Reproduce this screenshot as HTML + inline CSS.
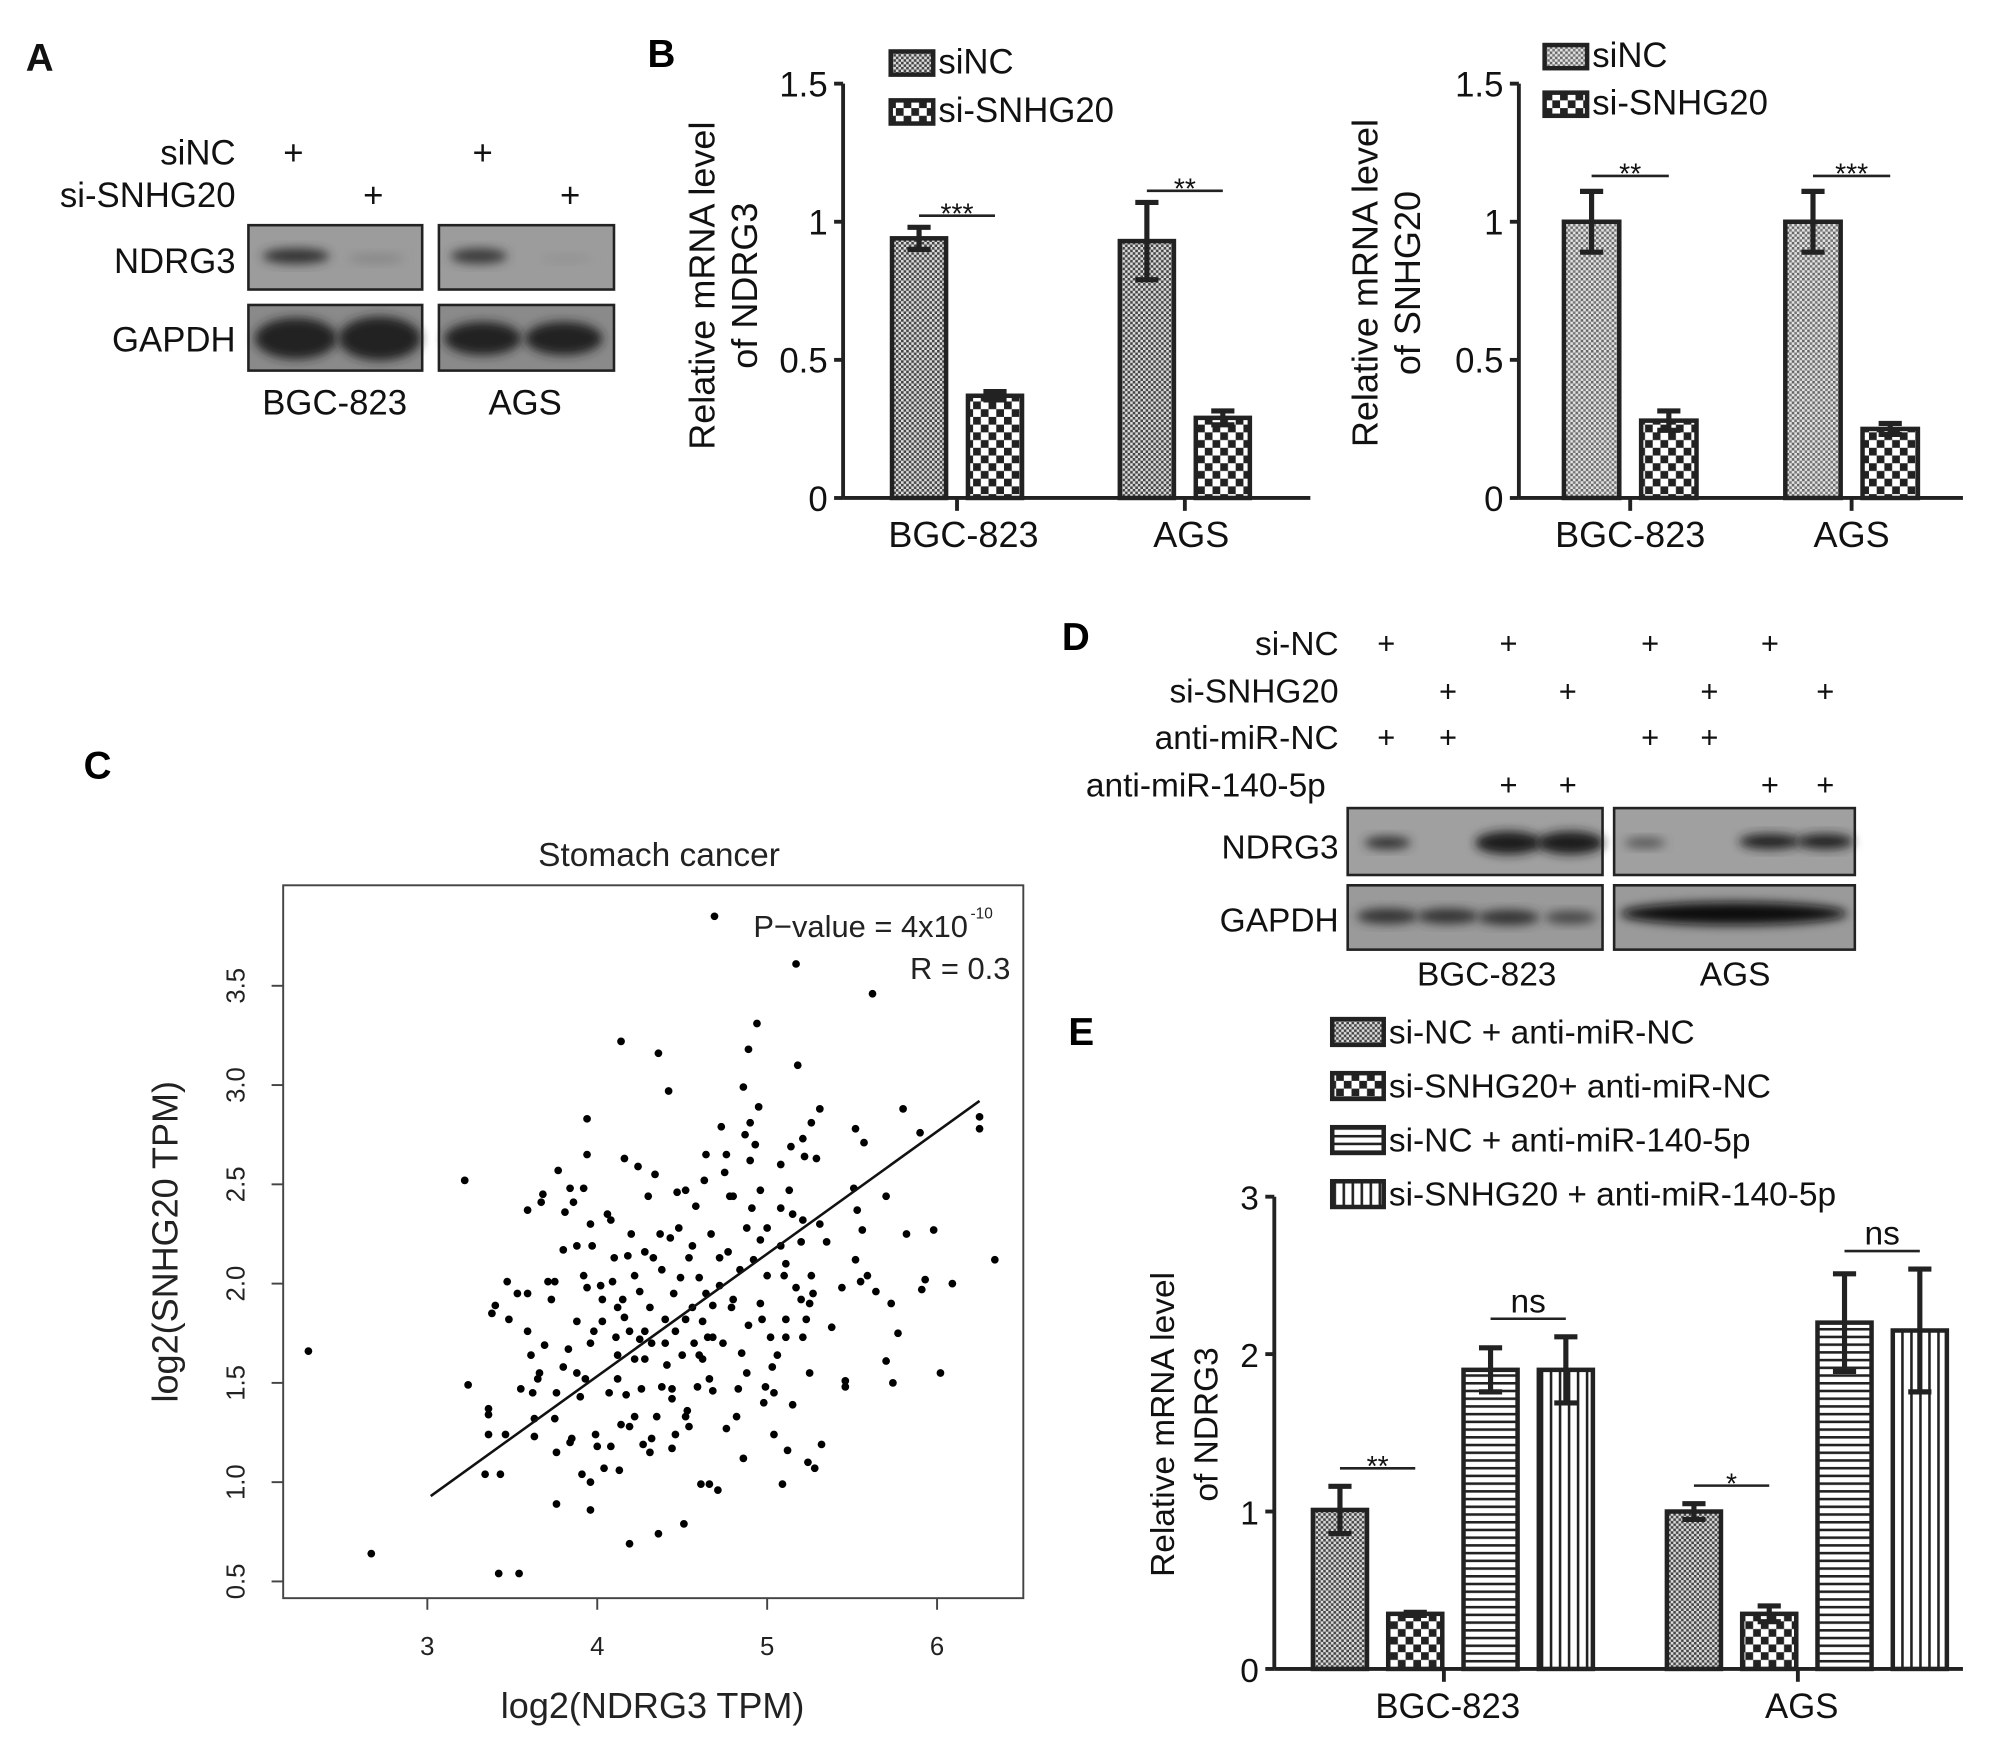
<!DOCTYPE html>
<html><head><meta charset="utf-8"><style>
html,body{margin:0;padding:0;background:#fff;}
svg{display:block;font-family:"Liberation Sans",Arial,sans-serif;}
</style></head><body>
<svg id="fig" width="2008" height="1750" viewBox="0 0 1560 1360" preserveAspectRatio="none" xmlns="http://www.w3.org/2000/svg">
<defs>
<pattern id="pFine" width="4" height="4" patternUnits="userSpaceOnUse"><rect width="4" height="4" fill="#ddd"/><rect width="2" height="2" fill="#444"/><rect x="2" y="2" width="2" height="2" fill="#444"/></pattern>
<pattern id="pFine2" width="4" height="4" patternUnits="userSpaceOnUse"><rect width="4" height="4" fill="#e4e4e4"/><rect width="2" height="2" fill="#666"/><rect x="2" y="2" width="2" height="2" fill="#777"/></pattern>
<pattern id="pCheck" width="12" height="12" patternUnits="userSpaceOnUse"><rect width="12" height="12" fill="#fff"/><rect width="6" height="6" fill="#222"/><rect x="6" y="6" width="6" height="6" fill="#222"/></pattern>
<pattern id="pHoriz" width="6" height="6" patternUnits="userSpaceOnUse"><rect width="6" height="6" fill="#fff"/><rect width="6" height="2" fill="#222"/></pattern>
<pattern id="pVert" width="7" height="7" patternUnits="userSpaceOnUse"><rect width="7" height="7" fill="#fff"/><rect width="2" height="7" fill="#222"/></pattern>
<filter id="blur" x="-20%" y="-50%" width="140%" height="200%"><feGaussianBlur stdDeviation="4"/></filter>
</defs>

<!-- Panel A -->
<g font-size="27" fill="#111">
<text x="20" y="55" font-weight="bold" font-size="30">A</text>
<text x="183" y="128" text-anchor="end">siNC</text>
<text x="183" y="161" text-anchor="end">si-SNHG20</text>
<text x="228" y="128" text-anchor="middle">+</text><text x="375" y="128" text-anchor="middle">+</text>
<text x="290" y="161" text-anchor="middle">+</text><text x="443" y="161" text-anchor="middle">+</text>
<text x="183" y="212" text-anchor="end">NDRG3</text>
<text x="183" y="273" text-anchor="end">GAPDH</text>
<g>
<rect x="193" y="175" width="135" height="50" fill="#9c9c9c" stroke="#222" stroke-width="2"/>
<rect x="341" y="175" width="136" height="50" fill="#9c9c9c" stroke="#222" stroke-width="2"/>
<ellipse cx="230" cy="199" rx="26" ry="6" fill="#333" filter="url(#blur)"/>
<ellipse cx="292" cy="201" rx="22" ry="4" fill="#888" filter="url(#blur)"/>
<ellipse cx="372" cy="199" rx="22" ry="6" fill="#3a3a3a" filter="url(#blur)"/>
<ellipse cx="440" cy="201" rx="20" ry="3" fill="#929292" filter="url(#blur)"/>
</g>
<g>
<rect x="193" y="237" width="135" height="51" fill="#8a8a8a" stroke="#222" stroke-width="2"/>
<rect x="341" y="237" width="136" height="51" fill="#8a8a8a" stroke="#222" stroke-width="2"/>
<ellipse cx="230" cy="263" rx="32" ry="16" fill="#222" filter="url(#blur)"/>
<ellipse cx="295" cy="263" rx="32" ry="17" fill="#222" filter="url(#blur)"/>
<ellipse cx="375" cy="263" rx="30" ry="13" fill="#222" filter="url(#blur)"/>
<ellipse cx="438" cy="263" rx="30" ry="13" fill="#222" filter="url(#blur)"/>
</g>
<text x="260" y="322" text-anchor="middle">BGC-823</text>
<text x="408" y="322" text-anchor="middle">AGS</text>
</g>

<text x="503" y="52" font-weight="bold" font-size="30">B</text>
<text x="20" y="605" font-weight="bold" font-size="30" transform="translate(45,0)">C</text>
<text x="825" y="505" font-weight="bold" font-size="30">D</text>
<text x="830" y="812" font-weight="bold" font-size="30">E</text>

<!-- Panel D -->
<g font-size="26" fill="#111">
<text x="1040" y="509" text-anchor="end">si-NC</text>
<text x="1040" y="546" text-anchor="end">si-SNHG20</text>
<text x="1040" y="582" text-anchor="end">anti-miR-NC</text>
<text x="1030" y="619" text-anchor="end">anti-miR-140-5p</text>
<g font-size="24" text-anchor="middle">
<text x="1077" y="508">+</text><text x="1172" y="508">+</text><text x="1282" y="508">+</text><text x="1375" y="508">+</text>
<text x="1125" y="545">+</text><text x="1218" y="545">+</text><text x="1328" y="545">+</text><text x="1418" y="545">+</text>
<text x="1077" y="581">+</text><text x="1125" y="581">+</text><text x="1282" y="581">+</text><text x="1328" y="581">+</text>
<text x="1172" y="618">+</text><text x="1218" y="618">+</text><text x="1375" y="618">+</text><text x="1418" y="618">+</text>
</g>
<text x="1040" y="667" text-anchor="end">NDRG3</text>
<text x="1040" y="724" text-anchor="end">GAPDH</text>
<g>
<rect x="1047" y="628" width="198" height="52" fill="#a0a0a0" stroke="#222" stroke-width="2"/>
<rect x="1254" y="628" width="187" height="52" fill="#a0a0a0" stroke="#222" stroke-width="2"/>
<ellipse cx="1078" cy="655" rx="18" ry="5" fill="#333" filter="url(#blur)"/>
<ellipse cx="1172" cy="655" rx="26" ry="9" fill="#1a1a1a" filter="url(#blur)"/>
<ellipse cx="1220" cy="655" rx="26" ry="9" fill="#1a1a1a" filter="url(#blur)"/>
<ellipse cx="1278" cy="655" rx="16" ry="4" fill="#555" filter="url(#blur)"/>
<ellipse cx="1375" cy="654" rx="24" ry="6" fill="#222" filter="url(#blur)"/>
<ellipse cx="1418" cy="654" rx="22" ry="6" fill="#222" filter="url(#blur)"/>
</g>
<g>
<rect x="1047" y="688" width="198" height="50" fill="#9a9a9a" stroke="#222" stroke-width="2"/>
<rect x="1254" y="688" width="187" height="50" fill="#9a9a9a" stroke="#222" stroke-width="2"/>
<ellipse cx="1078" cy="712" rx="24" ry="6" fill="#333" filter="url(#blur)"/>
<ellipse cx="1125" cy="712" rx="24" ry="6" fill="#333" filter="url(#blur)"/>
<ellipse cx="1172" cy="713" rx="24" ry="6" fill="#333" filter="url(#blur)"/>
<ellipse cx="1220" cy="713" rx="20" ry="5" fill="#444" filter="url(#blur)"/>
<ellipse cx="1347" cy="710" rx="88" ry="9" fill="#0e0e0e" filter="url(#blur)"/>
</g>
<text x="1155" y="766" text-anchor="middle">BGC-823</text>
<text x="1348" y="766" text-anchor="middle">AGS</text>
</g>

<g id="charts"></g>
</svg>
<script>
// ---------- data ----------
const bCategories = ["BGC-823", "AGS"];
const bSeries = ["siNC", "si-SNHG20"];
const b1Values = [0.94, 0.37, 0.93, 0.29];
const b1Errors = [0.04, 0.015, 0.14, 0.025];
const b2Values = [1.0, 0.28, 1.0, 0.25];
const b2Errors = [0.11, 0.035, 0.11, 0.02];
const bTicks = [0, 0.5, 1, 1.5];
const bTickLabels = ["0", "0.5", "1", "1.5"];
const b1Sig = ["***", "**"];
const b2Sig = ["**", "***"];

const eCategories = ["BGC-823", "AGS"];
const eSeries = ["si-NC + anti-miR-NC", "si-SNHG20+ anti-miR-NC", "si-NC + anti-miR-140-5p", "si-SNHG20 + anti-miR-140-5p"];
const eValues = [1.01, 0.35, 1.9, 1.9, 1.0, 0.35, 2.2, 2.15];
const eErrors = [0.15, 0.01, 0.14, 0.21, 0.05, 0.05, 0.31, 0.39];
const eTicks = [0, 1, 2, 3];
const eSig = ["**", "ns", "*", "ns"];

const cXTicks = [3, 4, 5, 6];
const cYTicks = [0.5, 1.0, 1.5, 2.0, 2.5, 3.0, 3.5];
const cFitX = [3.02, 6.25];
const cFitY = [0.93, 2.92];
const cX = [2.30,2.67,3.22,3.24,3.42,3.54,3.36,3.36,3.36,3.34,3.43,3.46,3.38,3.40,3.47,3.48,3.53,3.59,3.59,3.59,3.61,3.55,3.62,3.63,3.63,3.67,3.68,3.69,3.71,3.73,3.75,3.77,3.66,3.65,3.76,3.76,3.75,3.80,3.81,3.84,3.86,3.80,3.83,3.85,3.84,3.88,3.88,3.90,3.91,3.92,3.94,3.94,3.94,3.93,3.96,3.96,3.96,3.97,3.98,3.99,4.00,4.02,4.03,4.04,4.06,4.08,4.07,4.08,4.09,4.10,4.11,4.12,4.12,4.13,4.14,4.14,4.15,4.16,4.16,4.17,4.18,4.19,4.19,4.20,4.22,4.24,4.25,4.25,4.26,4.27,4.28,4.30,4.31,4.31,4.32,4.34,4.35,4.36,4.36,4.37,4.38,4.40,4.41,4.42,4.43,4.44,4.45,4.46,4.47,4.48,4.49,4.50,4.51,4.52,4.53,4.54,4.54,4.56,4.57,4.58,4.59,4.60,4.61,4.62,4.63,4.64,4.65,4.66,4.67,4.68,4.68,4.69,4.71,4.72,4.73,4.74,4.75,4.76,4.77,4.78,4.79,4.80,4.82,4.83,4.84,4.85,4.86,4.86,4.87,4.88,4.89,4.90,4.90,4.91,4.92,4.93,4.94,4.95,4.96,4.96,4.97,4.98,4.99,5.00,5.02,5.03,5.04,5.06,5.08,5.08,5.09,5.10,5.11,5.11,5.12,5.13,5.14,5.15,5.17,5.17,5.18,5.20,5.21,5.21,5.22,5.23,5.24,5.25,5.26,5.26,5.27,5.28,5.29,5.31,5.31,5.32,5.35,5.38,5.44,5.46,5.46,5.51,5.52,5.52,5.53,5.55,5.56,5.57,5.59,5.62,5.64,5.70,5.70,5.73,5.74,5.77,5.80,5.82,5.90,5.91,5.93,5.98,6.02,6.09,6.25,6.25,6.34,
4.44,4.52,4.38,4.28,4.62,4.68,4.19,4.03,4.22,4.33,4.56,4.64,4.80,4.89,5.11,5.21,5.25,5.04,4.88,4.52,4.40,4.28,4.12,3.92,4.72,4.96,5.08,5.20,5.00,4.44,3.96,3.88,3.76,4.60,4.66,4.22,4.32,4.46,5.15,4.76];
const cY = [1.66,0.64,2.52,1.49,0.54,0.54,1.37,1.34,1.24,1.04,1.04,1.24,1.85,1.89,2.01,1.82,1.95,1.95,2.37,1.76,1.64,1.47,1.45,1.32,1.23,2.41,2.45,1.69,2.01,1.92,2.01,2.57,1.55,1.52,1.15,0.89,1.32,2.17,2.36,2.48,2.41,1.58,1.67,1.22,1.20,2.19,1.81,1.43,1.04,2.48,2.83,2.65,1.98,1.52,1.00,0.86,2.30,2.19,1.76,1.24,1.18,1.99,1.92,1.07,2.35,2.32,1.45,1.18,2.01,2.13,1.73,1.64,1.52,1.06,1.29,3.22,1.92,2.63,1.83,1.44,2.14,0.69,1.28,2.25,1.62,2.59,1.96,1.72,1.47,1.19,2.16,2.44,1.88,1.15,1.70,2.55,1.33,3.16,0.74,2.25,2.07,1.82,1.59,2.97,2.23,1.17,1.95,1.76,2.46,2.28,2.03,1.64,0.79,2.47,1.36,1.28,2.13,1.88,1.70,2.39,1.48,2.03,0.99,1.81,2.52,2.65,1.73,0.99,2.25,1.89,1.46,3.85,0.96,1.99,2.79,1.70,2.56,2.65,2.16,2.44,1.88,2.44,1.33,1.47,2.07,1.65,1.12,2.99,2.75,2.28,3.18,2.81,2.62,2.38,2.12,2.70,3.31,2.89,2.47,1.90,1.82,1.40,1.48,2.28,1.73,1.58,1.24,1.64,2.60,2.38,0.99,2.04,1.82,2.10,1.16,2.47,2.69,2.35,3.61,1.98,3.10,2.21,2.32,2.73,2.64,1.82,1.10,1.90,2.81,2.04,1.95,1.07,2.63,2.30,2.88,1.19,2.21,1.78,1.98,1.51,1.48,2.48,2.78,2.12,2.37,2.01,2.27,2.71,2.04,3.46,1.96,2.44,1.61,1.90,1.50,1.75,2.88,2.25,2.76,1.97,2.02,2.27,1.55,2.00,2.84,2.78,2.12,
1.47,1.33,1.48,1.62,1.62,1.73,1.76,1.81,2.04,2.13,2.19,1.95,1.92,1.79,1.73,1.73,1.55,1.45,1.55,1.82,1.70,1.76,1.88,2.04,2.13,2.22,2.19,1.92,2.04,1.42,1.70,1.55,1.45,1.64,1.52,1.33,1.22,1.24,1.39,1.27];

// ---------- helpers ----------
const NS = "http://www.w3.org/2000/svg";
const root = document.getElementById("charts");
function mk(tag, attrs, parent, text) {
  const el = document.createElementNS(NS, tag);
  for (const k in attrs) el.setAttribute(k, attrs[k]);
  if (text !== undefined) el.textContent = text;
  (parent || root).appendChild(el);
  return el;
}

// ---------- bar chart ----------
function barChart(o) {
  const g = mk("g", {}, root);
  
  
  const yS = v => o.y0 - (v - o.ymin) / (o.ymax - o.ymin) * (o.y0 - o.ytop);
  const nS = o.series.length;
  const yAxis = mk("line", {x1:o.x0, x2:o.x0, y1:o.ytop, y2:o.y0, stroke:"#222", "stroke-width":3}, g);
  
  
  const xAxis = mk("line", {x1:o.x0, x2:o.x1, y1:o.y0, y2:o.y0, stroke:"#222", "stroke-width":3}, g);
  
  
  o.ticks.forEach((t, i) => {
    mk("line", {x1:o.x0-7, x2:o.x0, y1:yS(t), y2:yS(t), stroke:"#222", "stroke-width":3}, g);
    const tl = mk("text", {x:o.x0-12, y:yS(t)+10, "text-anchor":"end", "font-size":o.tickFont, fill:"#111"}, g, o.tickLabels[i]);
    
    
  });
  o.categories.forEach((c, gi) => {
    const gx = o.groupStart + gi * o.groupStep;
    const cx = gx + (nS * o.step - (o.step - o.barW)) / 2 + o.tickShift;
    mk("line", {x1:cx, x2:cx, y1:o.y0, y2:o.y0+10, stroke:"#222", "stroke-width":3}, g);
    const cl = mk("text", {x:cx + o.labelShift, y:o.y0+38, "text-anchor":"middle", "font-size":o.catFont, fill:"#111"}, g, c);
    
    
    for (let s = 0; s < nS; s++) {
      const idx = gi * nS + s;
      const v = o.values[idx], e = o.errors[idx];
      const bx = gx + s * o.step;
      const r = mk("rect", {x:bx, y:yS(v), width:o.barW, height:o.y0 - yS(v), fill:"url(#" + o.patterns[s] + ")", stroke:"#222", "stroke-width":3.5}, g);
      
      
      const mx = bx + o.barW / 2;
      const eb = mk("path", {d:`M${mx},${yS(v-e)}V${yS(v+e)}M${mx-9},${yS(v+e)}H${mx+9}M${mx-9},${yS(v-e)}H${mx+9}`, stroke:"#222", "stroke-width":4, fill:"none"}, g);
      
      
    }
    o.sigPairs.forEach((p, pi) => {
      const a = gi * nS + p[0], b = gi * nS + p[1];
      const top = Math.max(o.values[a] + o.errors[a], o.values[b] + o.errors[b]);
      const ya = yS(top) - o.sigGap;
      const xa = gx + p[0] * o.step + o.barW / 2, xb = gx + p[1] * o.step + o.barW / 2;
      mk("line", {x1:xa, x2:xb, y1:ya, y2:ya, stroke:"#222", "stroke-width":2}, g);
      const lab = o.sigLabels[gi*o.sigPairs.length+pi];
      const st = mk("text", {x:(xa+xb)/2, y:ya - (lab==="ns"?5:-6), "text-anchor":"middle", "font-size":lab==="ns"?26:22, fill:"#111"}, g, lab);
      
      
    });
  });
  const yt = mk("text", {transform:`translate(${o.titleX},${o.titleY}) rotate(-90)`, "text-anchor":"middle", "font-size":o.titleFont, fill:"#111"}, g);
  
  
  mk("tspan", {x:0, y:0}, yt, o.title[0]);
  mk("tspan", {x:0, y:o.titleLH}, yt, o.title[1]);
  o.series.forEach((s, i) => {
    const ly = o.legY + i * o.legStep;
    const lb = mk("rect", {x:o.legX, y:ly, width:o.legW, height:o.legH, fill:"url(#" + o.patterns[i] + ")", stroke:"#222", "stroke-width":3.5}, g);
    
    
    const lt = mk("text", {x:o.legX + o.legW + 4, y:ly + o.legH - 1, "font-size":o.legFont, fill:"#111"}, g, s);
    
    
  });
}

barChart({name:"chart-b-ndrg3", categories:bCategories, series:bSeries, values:b1Values, errors:b1Errors,
  ticks:bTicks, tickLabels:bTickLabels, ymin:0, ymax:1.5, x0:655, x1:1018, y0:387, ytop:65,
  groupStart:693, groupStep:177, barW:42, step:59, tickShift:0, labelShift:5, patterns:["pFine","pCheck"],
  sigPairs:[[0,1]], sigLabels:b1Sig, sigGap:9, tickFont:27, catFont:28,
  title:["Relative mRNA level","of NDRG3"], titleX:555, titleY:222, titleLH:33, titleFont:28,
  legX:692, legY:40, legStep:38, legW:33, legH:18, legFont:27});
barChart({name:"chart-b-snhg20", categories:bCategories, series:bSeries, values:b2Values, errors:b2Errors,
  ticks:bTicks, tickLabels:bTickLabels, ymin:0, ymax:1.5, x0:1180, x1:1525, y0:387, ytop:65,
  groupStart:1215, groupStep:172, barW:43, step:60, tickShift:0, labelShift:0, patterns:["pFine2","pCheck"],
  sigPairs:[[0,1]], sigLabels:b2Sig, sigGap:12, tickFont:27, catFont:28,
  title:["Relative mRNA level","of SNHG20"], titleX:1070, titleY:220, titleLH:33, titleFont:28,
  legX:1200, legY:35, legStep:37, legW:33, legH:18, legFont:27});
barChart({name:"chart-e-ndrg3", categories:eCategories, series:eSeries, values:eValues, errors:eErrors,
  ticks:eTicks, tickLabels:["0","1","2","3"], ymin:0, ymax:3, x0:990, x1:1525, y0:1297, ytop:930,
  groupStart:1020, groupStep:275, barW:42, step:58.5, tickShift:-7, labelShift:3, patterns:["pFine","pCheck","pHoriz","pVert"],
  sigPairs:[[0,1],[2,3]], sigLabels:eSig, sigGap:14, tickFont:26, catFont:27,
  title:["Relative mRNA level","of NDRG3"], titleX:912, titleY:1107, titleLH:34, titleFont:26,
  legX:1035, legY:792, legStep:42, legW:40, legH:20, legFont:26});

// ---------- scatter ----------
(function(){
  const g = mk("g", {}, root);
  
  
  const X = v => 332 + (v - 3) * 132;
  const Y = v => 1229 - (v - 0.5) * 154.3;
  const frame = mk("rect", {x:220, y:688, width:575, height:554, fill:"none", stroke:"#444", "stroke-width":1.5}, g);
  
  
  cXTicks.forEach(t => {
    mk("line", {x1:X(t), x2:X(t), y1:1242, y2:1251, stroke:"#444", "stroke-width":1.5}, g);
    const l = mk("text", {x:X(t), y:1286, "text-anchor":"middle", "font-size":20, fill:"#222"}, g, String(t));
    
    
  });
  cYTicks.forEach(t => {
    mk("line", {x1:211, x2:220, y1:Y(t), y2:Y(t), stroke:"#444", "stroke-width":1.5}, g);
    const l = mk("text", {transform:`translate(190,${Y(t)}) rotate(-90)`, "text-anchor":"middle", "font-size":20, fill:"#222"}, g, t.toFixed(1));
    
    
  });
  for (let i = 0; i < cX.length; i++) {
    const p = mk("circle", {cx:X(cX[i]), cy:Y(cY[i]), r:3, fill:"#000"}, g);
    
    
  }
  const fl = mk("line", {x1:X(cFitX[0]), y1:Y(cFitY[0]), x2:X(cFitX[1]), y2:Y(cFitY[1]), stroke:"#111", "stroke-width":2}, g);
  
  
  const t = mk("text", {x:512, y:673, "text-anchor":"middle", "font-size":26, fill:"#222"}, g, "Stomach cancer");
  
  
  const pv = mk("text", {x:752, y:728, "text-anchor":"end", "font-size":24, fill:"#222"}, g, "P\u2212value = 4x10");
  
  
  mk("text", {x:754, y:714, "font-size":12, fill:"#222"}, g, "-10");
  const rv = mk("text", {x:785, y:761, "text-anchor":"end", "font-size":24, fill:"#222"}, g, "R = 0.3");
  
  
  const xt = mk("text", {x:507, y:1335, "text-anchor":"middle", "font-size":28, fill:"#222"}, g, "log2(NDRG3 TPM)");
  
  
  const yt = mk("text", {transform:"translate(138,965) rotate(-90)", "text-anchor":"middle", "font-size":28, fill:"#222"}, g, "log2(SNHG20 TPM)");
  
  
})();
</script>
</body></html>
